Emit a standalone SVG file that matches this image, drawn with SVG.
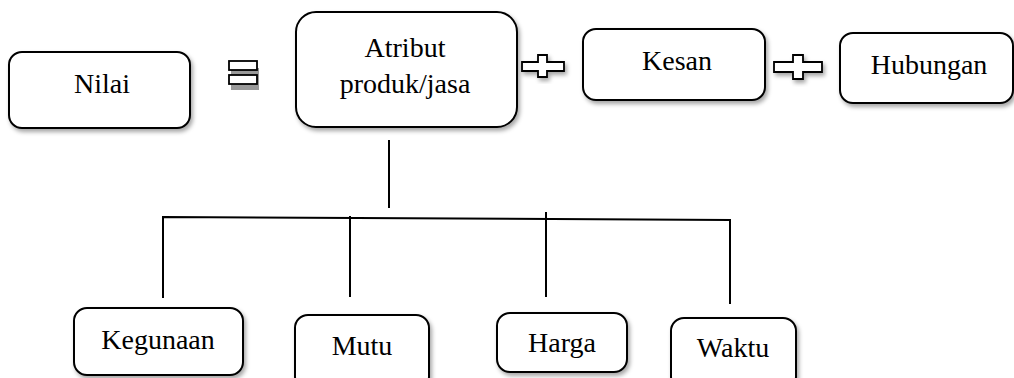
<svg xmlns="http://www.w3.org/2000/svg" width="1014" height="378" viewBox="0 0 1014 378">
<defs>
<filter id="sh" x="-10%" y="-10%" width="130%" height="140%">
<feDropShadow dx="2" dy="3" stdDeviation="2" flood-color="#000" flood-opacity="0.35"/>
</filter>
<style>
.box{fill:#fff;stroke:#000;stroke-width:2;filter:url(#sh)}
.t{font-family:'Liberation Serif','DejaVu Serif',serif;font-size:28px;fill:#000;text-anchor:middle}
.ln{stroke:#000;stroke-width:2;fill:none}
.op{fill:#fff;stroke:#000;stroke-width:1.8}
</style>
</defs>
<rect width="1014" height="378" fill="#fff"/>
<g id="connectors">
<line class="ln" x1="389" y1="140" x2="389" y2="208"/>
<polyline class="ln" points="163,298 163,217 730,220 730,304"/>
<line class="ln" x1="350" y1="216" x2="350" y2="297"/>
<line class="ln" x1="546" y1="212" x2="546" y2="297"/>
</g>
<g id="operators">
<g id="equals">
<rect x="231" y="68" width="28" height="22" fill="#999"/>
<rect class="op" x="229" y="61" width="28" height="9"/>
<rect class="op" x="229" y="75" width="28" height="9"/>
</g>
<path id="plus1" class="op" filter="url(#sh)" d="M522,62 H538 V55 H547 V62 H564 V71 H547 V77 H538 V71 H522 Z"/>
<path id="plus2" class="op" filter="url(#sh)" d="M774,62 H793 V55 H803 V62 H822 V72 H803 V79 H793 V72 H774 Z"/>
</g>
<g id="nilai">
<rect class="box" x="9" y="52" width="181" height="76" rx="13"/>
<text class="t" x="102" y="93">Nilai</text>
</g>
<g id="atribut">
<rect class="box" x="296" y="12" width="221" height="115" rx="20"/>
<text class="t" x="405" y="57">Atribut</text>
<text class="t" x="405" y="93">produk/jasa</text>
</g>
<g id="kesan">
<rect class="box" x="583" y="29" width="182" height="71" rx="13"/>
<text class="t" x="677" y="70">Kesan</text>
</g>
<g id="hubungan">
<rect class="box" x="840" y="33" width="173" height="70" rx="13"/>
<text class="t" x="929" y="74">Hubungan</text>
</g>
<g id="kegunaan">
<rect class="box" x="74" y="308" width="169" height="67" rx="13"/>
<text class="t" x="158" y="349">Kegunaan</text>
</g>
<g id="mutu">
<rect class="box" x="295" y="315" width="134" height="75" rx="13"/>
<text class="t" x="362" y="355">Mutu</text>
</g>
<g id="harga">
<rect class="box" x="497" y="313" width="130" height="59" rx="13"/>
<text class="t" x="562" y="352">Harga</text>
</g>
<g id="waktu">
<rect class="box" x="671" y="318" width="125" height="72" rx="13"/>
<text class="t" x="733" y="357">Waktu</text>
</g>
</svg>
